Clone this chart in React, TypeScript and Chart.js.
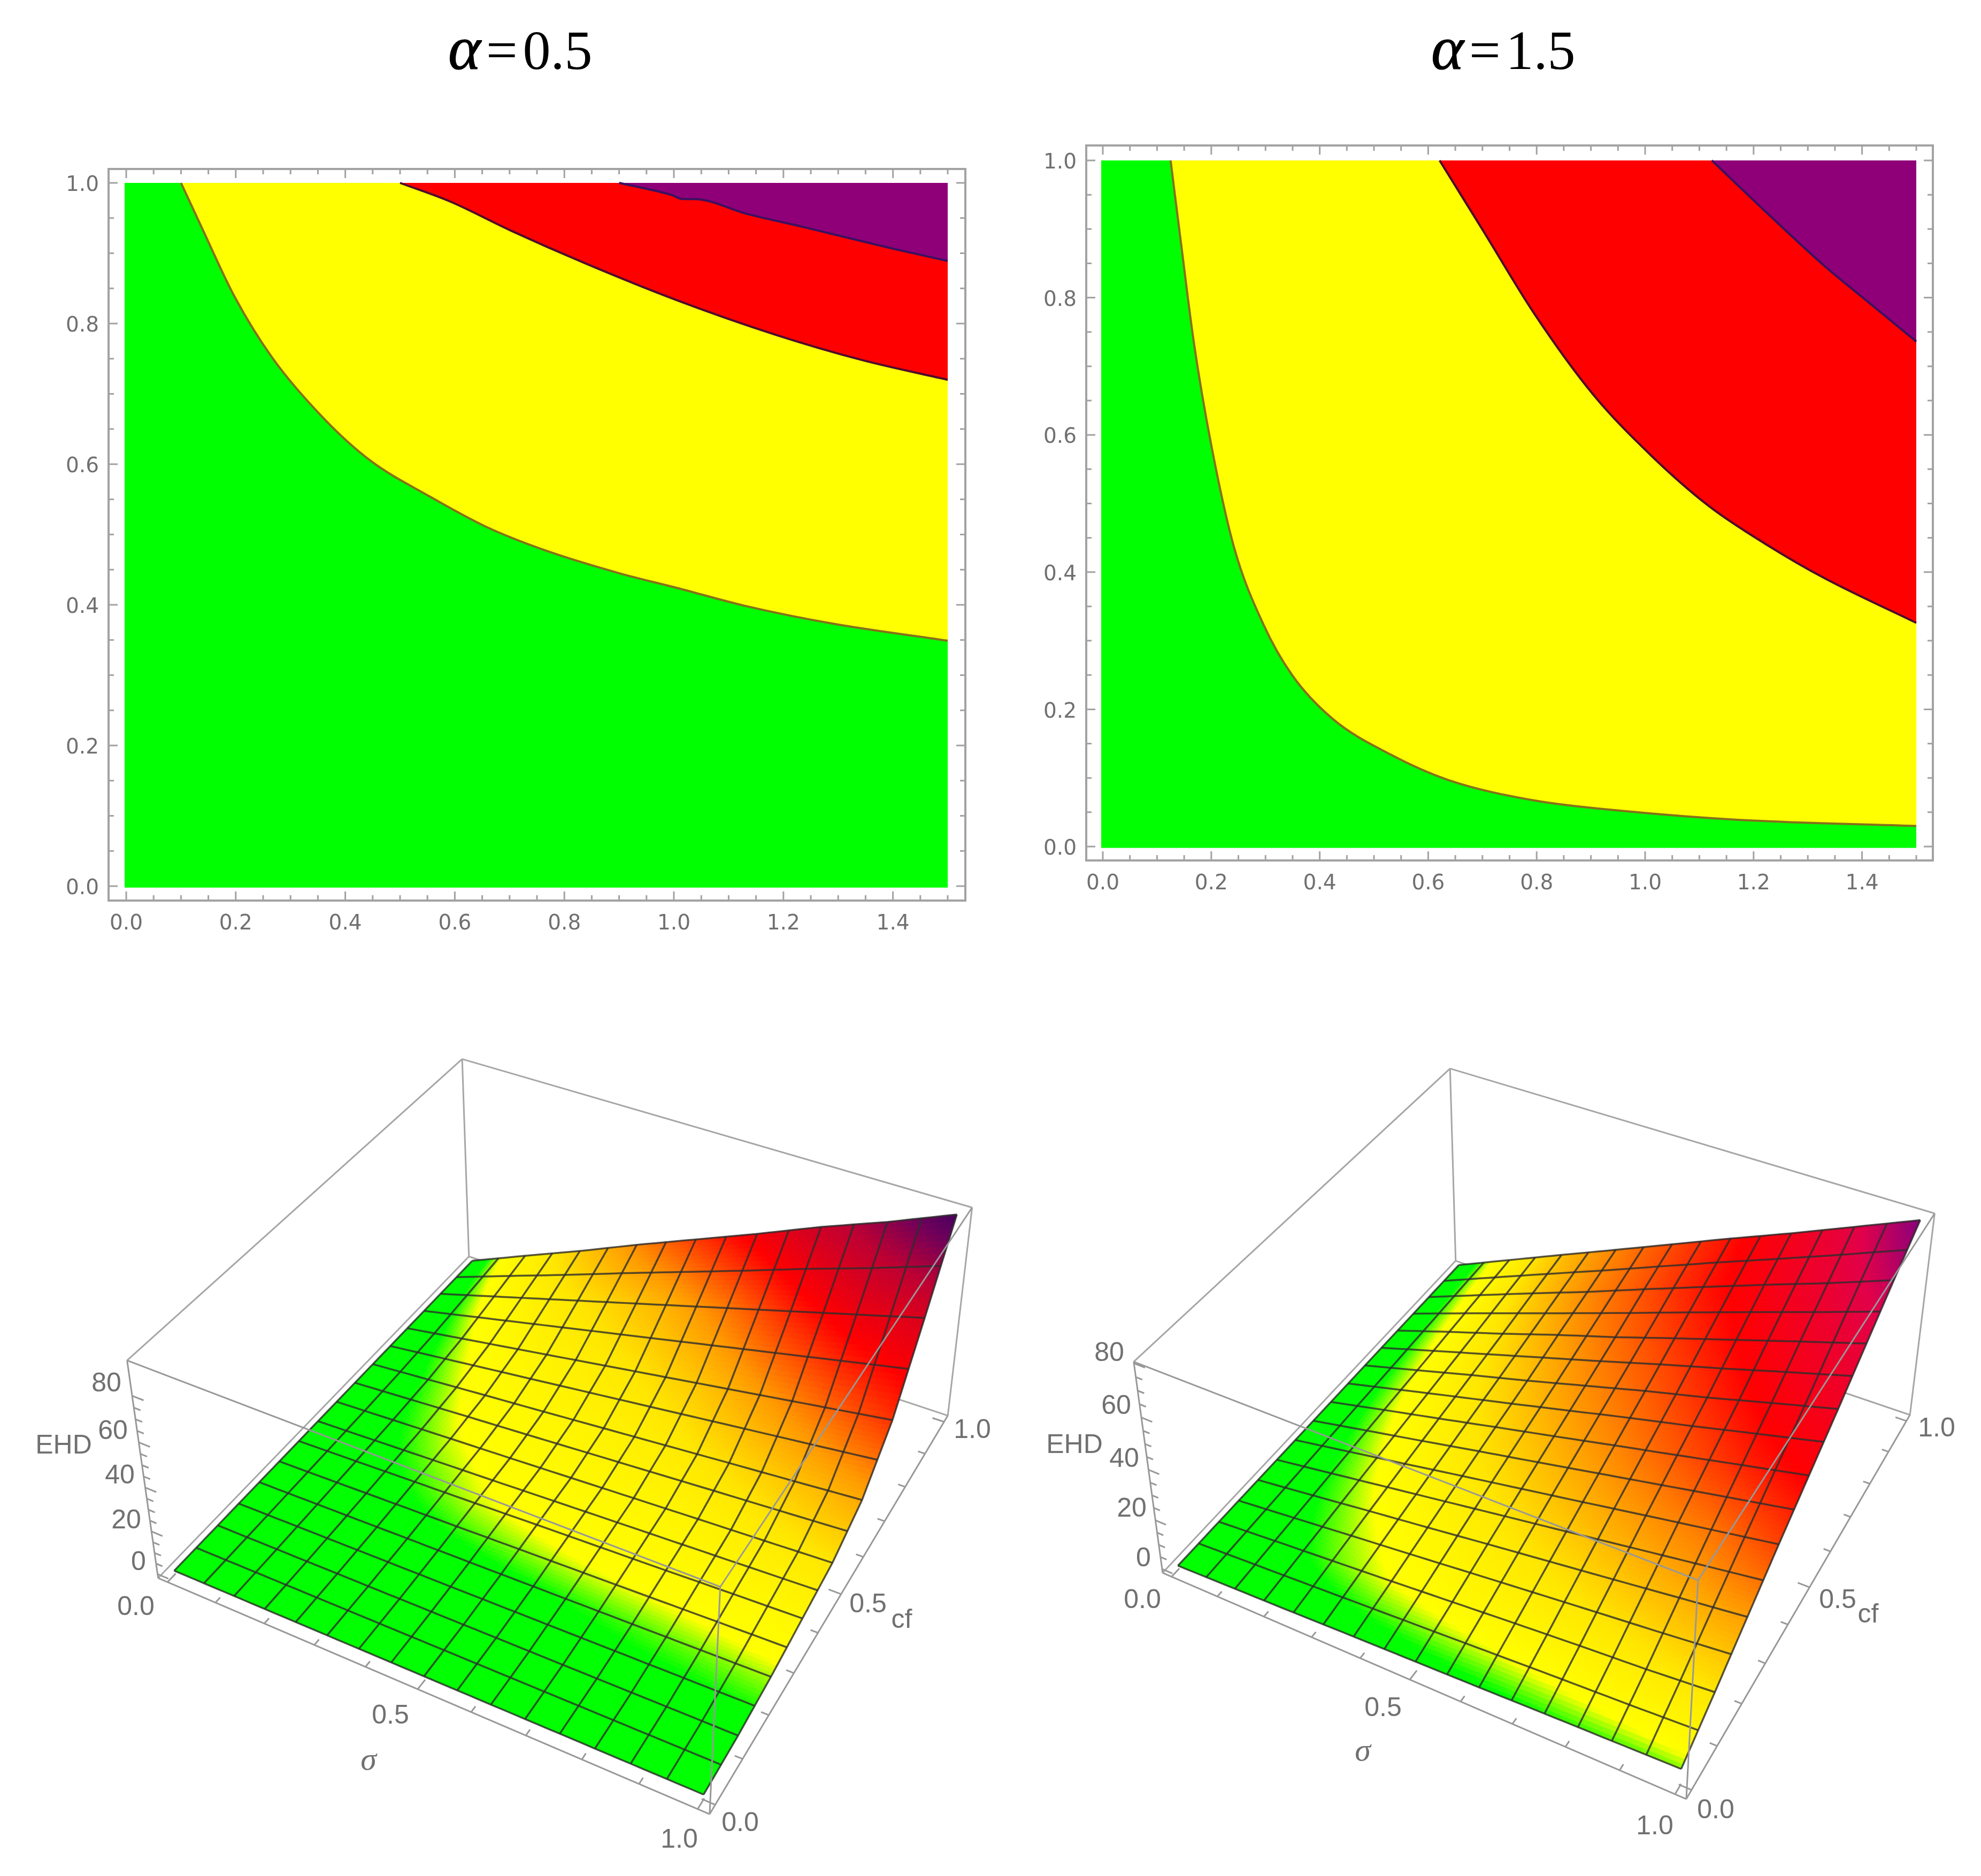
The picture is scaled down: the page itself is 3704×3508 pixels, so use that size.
import React, { useEffect, useRef } from "react";
import Chart from "chart.js/auto";

// contour boundaries, left panel (alpha = 0.5)
const leftGreenX = [0.1, 0.14, 0.198, 0.267, 0.362, 0.446, 0.552, 0.657, 0.763, 0.9, 1.006, 1.133, 1.292, 1.5];
const leftGreenY = [1, 0.933, 0.838, 0.751, 0.664, 0.605, 0.555, 0.511, 0.478, 0.445, 0.424, 0.398, 0.373, 0.349];
const leftRedX = [0.5, 0.593, 0.7, 0.837, 1.006, 1.186, 1.344, 1.5];
const leftRedY = [1, 0.973, 0.933, 0.886, 0.833, 0.784, 0.748, 0.72];
const leftPurpleX = [0.9, 0.995, 1.016, 1.037, 1.133, 1.238, 1.397, 1.5];
const leftPurpleY = [1, 0.983, 0.977, 0.977, 0.956, 0.937, 0.907, 0.889];

// contour boundaries, right panel (alpha = 1.5)
const rightGreenX = [0.125, 0.146, 0.168, 0.2, 0.242, 0.296, 0.349, 0.424, 0.531, 0.637, 0.797, 0.958, 1.171, 1.5];
const rightGreenY = [1, 0.868, 0.734, 0.585, 0.436, 0.324, 0.25, 0.186, 0.134, 0.097, 0.067, 0.052, 0.039, 0.03];
const rightRedX = [0.621, 0.701, 0.797, 0.904, 1.011, 1.118, 1.224, 1.331, 1.5];
const rightRedY = [1, 0.898, 0.775, 0.659, 0.57, 0.496, 0.44, 0.391, 0.326];
const rightPurpleX = [1.123, 1.224, 1.331, 1.417, 1.5];
const rightPurpleY = [1, 0.924, 0.846, 0.79, 0.736];

const contourXTicks = [0, 0.2, 0.4, 0.6, 0.8, 1, 1.2, 1.4];
const contourYTicks = [0, 0.2, 0.4, 0.6, 0.8, 1];

// EHD height: one row per cf (0, 0.125 ... 1), one column per sigma (0, 0.125 ... 1)
const ehdLeft = [
  [0, 0.06, 0.12, 0.19, 0.25, 0.31, 0.38, 0.44, 0.5],
  [0, 0.2, 0.4, 0.6, 0.8, 1, 1.2, 1.4, 1.6],
  [0, 0.5, 1, 1.5, 2, 2.5, 3, 3.5, 4],
  [0, 0.95, 1.9, 2.8, 3.8, 4.7, 5.6, 6.6, 7.5],
  [0, 1.4, 2.8, 4.1, 5.5, 6.9, 8.3, 9.6, 11],
  [0, 2.4, 4.8, 7.1, 9.5, 11.9, 14.3, 16.6, 19],
  [0, 4.5, 9, 13.5, 18, 22.5, 27, 31.5, 36],
  [0, 8, 16, 24, 32, 40, 48, 56, 64],
  [0, 11.6, 23, 35, 46.5, 58, 70, 81, 93],
];
const ehdRight = [
  [0, 0.6, 1.2, 1.9, 2.5, 3.1, 3.8, 4.4, 5],
  [0, 1.8, 3.5, 5.2, 7, 8.8, 10.5, 12, 14],
  [0, 2.9, 5.9, 8.8, 11.8, 14.7, 17.6, 20.6, 23.5],
  [0, 4.1, 8.2, 12.4, 16.5, 20.6, 24.8, 28.9, 33],
  [0, 5.3, 10.5, 15.8, 21, 26.3, 31.5, 36.8, 42],
  [0, 6.4, 12.8, 19, 25.5, 32, 38, 44.6, 51],
  [0, 7.6, 15, 22.7, 30, 37.8, 45.4, 53, 60.5],
  [0, 8.8, 17.5, 26, 35, 43.8, 52.5, 61, 70],
  [0, 9.9, 19.8, 29.6, 39.5, 49.4, 59, 69, 79],
];

const toneLeft = [
  [0, 0.06, 0.12, 0.2, 0.25, 0.3, 0.4, 0.45, 0.5],
  [0, 0.25, 0.5, 0.8, 1.1, 1.3, 1.6, 1.8, 2],
  [0, 0.8, 1.6, 2.4, 3.1, 3.7, 4.3, 4.9, 5.5],
  [0, 2, 3.9, 5.8, 7, 8, 8.6, 9.2, 10],
  [0, 3, 6, 8, 9.5, 10.5, 12, 15, 18],
  [0, 4, 8, 10.5, 12.5, 15, 20, 25, 30],
  [0, 5.5, 10.5, 14, 18, 24, 32, 40, 48],
  [0, 8, 15, 21, 28, 38, 50, 60, 66],
  [0, 11.6, 23, 35, 46.5, 58, 70, 81, 93],
];
const toneRight = [
  [0, 0.6, 1.2, 1.9, 2.5, 3.1, 3.8, 4.4, 5],
  [0, 2.2, 4.5, 6.5, 8, 9.4, 10.8, 12.4, 14],
  [0, 3.2, 6.2, 9, 11.8, 14.7, 17.6, 20.6, 23.5],
  [0, 4.1, 8.2, 12.4, 16.5, 20.6, 24.8, 29, 36],
  [0, 5.3, 10.5, 15.8, 21, 26.5, 33, 40, 46],
  [0, 6.4, 12.8, 19, 25.5, 32, 39.5, 47, 54],
  [0, 7.6, 15, 22.7, 30, 37.5, 45, 53, 62],
  [0, 8.8, 17.5, 26, 34, 42, 49.5, 59, 71],
  [0, 9.9, 19, 27, 35, 43, 52, 64, 79],
];

const leftLevels = [3.5, 6.5, 18, 33, 55, 74, 86, 95];
const leftStops = [
  [0, 255, 0],
  [255, 255, 0],
  [255, 230, 0],
  [255, 154, 0],
  [255, 0, 0],
  [190, 0, 50],
  [110, 0, 90],
  [60, 0, 96],
];
const rightLevels = [3.5, 6.5, 14, 24, 45, 66, 80];
const rightStops = [
  [0, 255, 0],
  [255, 255, 0],
  [255, 230, 0],
  [255, 154, 0],
  [255, 0, 0],
  [225, 0, 74],
  [128, 0, 128],
];

const axisTicks = [0, 0.1, 0.2, 0.3, 0.4, 0.5, 0.6, 0.7, 0.8, 0.9, 1];
const ehdTicks = [0, 5, 10, 15, 20, 25, 30, 35, 40, 45, 50, 55, 60, 65, 70, 75, 80];

const MESH = 16;
const SHADE = 8;

const xy = (xs: number[], ys: number[]) => xs.map((x, i) => ({ x, y: ys[i] }));

type Contour = {
  frame: number[]; // left, top, right, bottom of the frame on the page
  origin: number[]; // page x of 0 and 1.5, page y of 0 and 1
  green: { x: number; y: number }[];
  red: { x: number; y: number }[];
  purple: { x: number; y: number }[];
};

const ContourPlot: React.FC<Contour> = ({ frame, origin, green, red, purple }) => {
  const ref = useRef<HTMLCanvasElement>(null);
  const [L, T, R, B] = frame;
  const [x0, x15, y0, y1] = origin;
  const width = R - L + 170;
  const height = B - T + 150;

  useEffect(() => {
    if (!ref.current) return;
    const perX = (x15 - x0) / 1.5;
    const perY = (y0 - y1) / 1;
    const border = (data: any[], color: string, line: string, smooth = true) => ({
      data,
      backgroundColor: color,
      borderColor: line,
      borderWidth: 4,
      fill: { value: 1 },
      pointRadius: 0,
      cubicInterpolationMode: smooth ? "monotone" : "default",
      tension: smooth ? 0.4 : 0,
    });
    const fontTicks = { family: "DejaVu Sans", size: 39 };

    const framePlugin = {
      id: "mathFrame",
      afterDraw(chart: any) {
        const { ctx, chartArea: a, scales } = chart;
        ctx.save();
        ctx.strokeStyle = "#a2a2a2";
        ctx.lineWidth = 4;
        ctx.strokeRect(a.left, a.top, a.right - a.left, a.bottom - a.top);
        ctx.lineWidth = 3;
        ctx.beginPath();
        for (let i = 0; i <= 30; i++) {
          const px = scales.x.getPixelForValue(i * 0.05);
          const len = i % 4 === 0 ? 17 : 10;
          ctx.moveTo(px, a.bottom);
          ctx.lineTo(px, a.bottom - len);
          ctx.moveTo(px, a.top);
          ctx.lineTo(px, a.top + len);
        }
        for (let i = 0; i <= 20; i++) {
          const py = scales.y.getPixelForValue(i * 0.05);
          const len = i % 4 === 0 ? 17 : 10;
          ctx.moveTo(a.left, py);
          ctx.lineTo(a.left + len, py);
          ctx.moveTo(a.right, py);
          ctx.lineTo(a.right - len, py);
        }
        ctx.stroke();
        ctx.restore();
      },
    };

    const chart = new Chart(ref.current, {
      type: "line",
      data: {
        datasets: [
          border(purple, "#8f0078", "#3b1060"),
          border(red, "#ff0000", "#4e0a2c"),
          border(green, "#ffff00", "#86701a"),
          border(xy([-0.003, 1.5], [-0.002, -0.002]), "#00ff00", "rgba(0,255,0,0)", false),
        ] as any,
      },
      options: {
        animation: false,
        responsive: false,
        devicePixelRatio: 1,
        layout: { padding: { left: 0, top: 60, right: 60, bottom: 0 } },
        plugins: { legend: { display: false }, tooltip: { enabled: false } },
        scales: {
          x: {
            type: "linear",
            min: (L - x0) / perX,
            max: 1.5 + (R - x15) / perX,
            grid: { display: false },
            border: { display: false },
            afterBuildTicks: (s: any) => {
              s.ticks = contourXTicks.map((value) => ({ value }));
            },
            afterFit: (s: any) => {
              s.height = 90;
            },
            ticks: {
              color: "#707070",
              font: fontTicks,
              padding: 12,
              maxRotation: 0,
              autoSkip: false,
              callback: (v: any) => Number(v).toFixed(1),
            },
          },
          y: {
            type: "linear",
            min: (y0 - B) / perY,
            max: 1 + (y1 - T) / perY,
            grid: { display: false },
            border: { display: false },
            afterBuildTicks: (s: any) => {
              s.ticks = contourYTicks.map((value) => ({ value }));
            },
            afterFit: (s: any) => {
              s.width = 110;
            },
            ticks: {
              color: "#707070",
              font: fontTicks,
              padding: 10,
              labelOffset: 5,
              autoSkip: false,
              callback: (v: any) => Number(v).toFixed(1),
            },
          },
        },
      } as any,
      plugins: [framePlugin],
    });
    return () => chart.destroy();
  }, []);

  return (
    <canvas
      ref={ref}
      width={width}
      height={height}
      style={{ position: "absolute", left: L - 110, top: T - 60, width, height }}
    />
  );
};

// box coordinates (u, v, w) in 0..1 -> page x, y, as a pin-hole camera fitted to what can be seen of the box
const fitCamera = (matches: number[][]) => {
  const N = 11;
  const M = Array.from({ length: N }, () => new Array(N + 1).fill(0));
  const add = (row: number[], rhs: number) => {
    for (let i = 0; i < N; i++) {
      for (let j = 0; j < N; j++) M[i][j] += row[i] * row[j];
      M[i][N] += row[i] * rhs;
    }
  };
  matches.forEach(([u, v, w, px, py]) => {
    const X = px / 1000;
    const Y = py / 1000;
    add([1, u, v, w, 0, 0, 0, 0, -X * u, -X * v, -X * w], X);
    add([0, 0, 0, 0, 1, u, v, w, -Y * u, -Y * v, -Y * w], Y);
  });
  for (let c = 0; c < N; c++) {
    let p = c;
    for (let r = c + 1; r < N; r++) if (Math.abs(M[r][c]) > Math.abs(M[p][c])) p = r;
    [M[c], M[p]] = [M[p], M[c]];
    for (let r = 0; r < N; r++) {
      if (r === c) continue;
      const f = M[r][c] / M[c][c];
      for (let k = c; k <= N; k++) M[r][k] -= f * M[c][k];
    }
  }
  const s = M.map((row, i) => row[N] / row[i]);
  return (u: number, v: number, w: number) => {
    const h = 1 + s[8] * u + s[9] * v + s[10] * w;
    return {
      x: (1000 * (s[0] + s[1] * u + s[2] * v + s[3] * w)) / h,
      y: (1000 * (s[4] + s[5] * u + s[6] * v + s[7] * w)) / h,
    };
  };
};

const colorFor = (z: number, levels: number[], stops: number[][]) => {
  const rgb = (c: number[]) => `rgb(${c[0]},${c[1]},${c[2]})`;
  if (z <= levels[0]) return rgb(stops[0]);
  for (let i = 1; i < levels.length; i++) {
    if (z <= levels[i]) {
      const t = (z - levels[i - 1]) / (levels[i] - levels[i - 1]);
      const a = stops[i - 1];
      const b = stops[i];
      return rgb([a[0] + (b[0] - a[0]) * t, a[1] + (b[1] - a[1]) * t, a[2] + (b[2] - a[2]) * t]);
    }
  }
  return rgb(stops[stops.length - 1]);
};

const ehdAt = (table: number[][], sigma: number, cf: number) => {
  const a = Math.min(sigma * 8, 7.9999);
  const b = Math.min(cf * 8, 7.9999);
  const i = Math.floor(a);
  const j = Math.floor(b);
  const s = a - i;
  const t = b - j;
  return (
    table[j][i] * (1 - s) * (1 - t) +
    table[j][i + 1] * s * (1 - t) +
    table[j + 1][i] * (1 - s) * t +
    table[j + 1][i + 1] * s * t
  );
};

type Label = { text: string; x: number; y: number; serif?: boolean };
type Surface = {
  table: number[][];
  tone: number[][];
  levels: number[];
  stops: number[][];
  zMax: number;
  area: number[]; // left, top, width, height of the canvas on the page
  corners: number[][]; // u, v, w, page x, page y
  labels: Label[];
};

const SurfacePlot: React.FC<Surface> = ({ table, tone, levels, stops, zMax, area, corners, labels }) => {
  const ref = useRef<HTMLCanvasElement>(null);
  const [left, top, width, height] = area;

  useEffect(() => {
    if (!ref.current) return;
    const cam = fitCamera(corners);
    const at = (sigma: number, cf: number, z: number) =>
      cam((sigma + 0.02) / 1.04, (cf + 0.02) / 1.04, (z + 0.02 * zMax) / (1.04 * zMax));
    const onSurface = (sigma: number, cf: number) => at(sigma, cf, ehdAt(table, sigma, cf));

    const line = (data: any[], color: string, w: number) => ({
      data,
      showLine: true,
      borderColor: color,
      borderWidth: w,
      pointRadius: 0,
      fill: false,
    });

    const backEdges = [
      [0, 1, 1, 0, 0, 1],
      [0, 1, 1, 1, 1, 1],
      [0, 1, 1, 0, 1, 0],
      [1, 1, 1, 1, 1, 0],
      [1, 1, 0, 0, 1, 0],
      [0, 0, 0, 0, 1, 0],
    ];
    const frontEdges = [
      [0, 0, 1, 0, 0, 0],
      [0, 0, 0, 1, 0, 0],
      [1, 0, 0, 1, 1, 0],
      [0, 0, 1, 1, 0, 1],
      [1, 0, 1, 1, 1, 1],
      [1, 0, 1, 1, 0, 0],
    ];

    const datasets: any[] = [];
    frontEdges.forEach((e) => {
      datasets.push(line([cam(e[0], e[1], e[2]), cam(e[3], e[4], e[5])], "#989898", 3));
    });
    // tick marks along the bottom edges and the EHD edge
    axisTicks.forEach((t, i) => {
      const len = i % 5 === 0 ? 0.022 : 0.013;
      const us = (t + 0.02) / 1.04;
      datasets.push(line([cam(us, 0, 0), cam(us, len, 0)], "#989898", 3));
      datasets.push(line([cam(1, us, 0), cam(1 - len, us, 0)], "#989898", 3));
    });
    ehdTicks.forEach((t, i) => {
      const len = i % 4 === 0 ? 0.022 : 0.013;
      const w = (t + 0.02 * zMax) / (1.04 * zMax);
      datasets.push(line([cam(0, 0, w), cam(len, 0, w)], "#989898", 3));
    });
    // mesh
    for (let k = 0; k <= MESH; k++) {
      const a: any[] = [];
      const b: any[] = [];
      for (let n = 0; n <= MESH * 3; n++) {
        a.push(onSurface(k / MESH, n / (MESH * 3)));
        b.push(onSurface(n / (MESH * 3), k / MESH));
      }
      datasets.push(line(a, "rgba(45,45,45,0.8)", 3.5));
      datasets.push(line(b, "rgba(45,45,45,0.8)", 3.5));
    }

    const surfacePlugin = {
      id: "surfaceFill",
      beforeDatasetsDraw(chart: any) {
        const { ctx, scales } = chart;
        const px = (p: any) => [scales.x.getPixelForValue(p.x), scales.y.getPixelForValue(p.y)];
        ctx.save();
        ctx.strokeStyle = "#a6a6a6";
        ctx.lineWidth = 3;
        backEdges.forEach((e) => {
          const a = px(cam(e[0], e[1], e[2]));
          const b = px(cam(e[3], e[4], e[5]));
          ctx.beginPath();
          ctx.moveTo(a[0], a[1]);
          ctx.lineTo(b[0], b[1]);
          ctx.stroke();
        });
        const n = MESH * SHADE;
        ctx.lineWidth = 1;
        for (let j = 0; j < n; j++) {
          for (let i = 0; i < n; i++) {
            const s0 = i / n;
            const s1 = (i + 1) / n;
            const c0 = j / n;
            const c1 = (j + 1) / n;
            const q = [onSurface(s0, c0), onSurface(s1, c0), onSurface(s1, c1), onSurface(s0, c1)].map(px);
            const col = colorFor(ehdAt(tone, (s0 + s1) / 2, (c0 + c1) / 2), levels, stops);
            ctx.fillStyle = col;
            ctx.strokeStyle = col;
            ctx.beginPath();
            ctx.moveTo(q[0][0], q[0][1]);
            q.slice(1).forEach((p: number[]) => ctx.lineTo(p[0], p[1]));
            ctx.closePath();
            ctx.fill();
            ctx.stroke();
          }
        }
        ctx.restore();
      },
      afterDraw(chart: any) {
        const { ctx, scales } = chart;
        ctx.save();
        ctx.fillStyle = "#707070";
        ctx.textAlign = "center";
        ctx.textBaseline = "middle";
        labels.forEach((l) => {
          ctx.font = l.serif ? "italic 60px 'Liberation Serif'" : "50px 'Liberation Sans'";
          ctx.fillText(l.text, scales.x.getPixelForValue(l.x), scales.y.getPixelForValue(l.y));
        });
        ctx.restore();
      },
    };

    const chart = new Chart(ref.current, {
      type: "scatter",
      data: { datasets },
      options: {
        animation: false,
        responsive: false,
        devicePixelRatio: 1,
        plugins: { legend: { display: false }, tooltip: { enabled: false } },
        scales: {
          x: { type: "linear", display: false, min: left, max: left + width },
          y: { type: "linear", display: false, reverse: true, min: top, max: top + height },
        },
      } as any,
      plugins: [surfacePlugin],
    });
    return () => chart.destroy();
  }, []);

  return (
    <canvas
      ref={ref}
      width={width}
      height={height}
      style={{ position: "absolute", left, top, width, height }}
    />
  );
};

const leftCorners = [
  [0, 1, 1, 865, 1982],
  [0, 0, 1, 236, 2544],
  [0, 0, 0, 295, 2952],
  [1, 1, 1, 1818, 2259],
  [1, 1, 0, 1772, 2649],
  [1, 0, 1, 1347, 2966],
  [1, 0, 0, 1327, 3394],
  [0.0192, 0.0192, 0.0192, 328, 2937],
  [0.9808, 0.0192, 0.0192, 1315, 3356],
  [0.0192, 0.9808, 0.0192, 882, 2355],
  [0.9808, 0.9808, 0.9808, 1789, 2269],
];
const rightCorners = [
  [0, 1, 1, 2713, 2001],
  [0, 0, 1, 2119, 2544],
  [0, 0, 0, 2173, 2942],
  [1, 1, 1, 3618, 2266],
  [1, 1, 0, 3570, 2649],
  [1, 0, 1, 3172, 2957],
  [1, 0, 0, 3155, 3369],
  [0.0192, 0.0192, 0.0192, 2204, 2930],
  [0.9808, 0.0192, 0.0192, 3143, 3323],
  [0.0192, 0.9808, 0.0192, 2726, 2362],
  [0.9808, 0.9808, 0.9808, 3591, 2282],
];

const leftLabels: Label[] = [
  { text: "0.0", x: 254, y: 3006 },
  { text: "0.5", x: 730, y: 3209 },
  { text: "1.0", x: 1270, y: 3441 },
  { text: "0.0", x: 1384, y: 3410 },
  { text: "0.5", x: 1623, y: 3001 },
  { text: "1.0", x: 1818, y: 2675 },
  { text: "80", x: 199, y: 2588 },
  { text: "60", x: 211, y: 2677 },
  { text: "40", x: 224, y: 2760 },
  { text: "20", x: 236, y: 2844 },
  { text: "0", x: 259, y: 2922 },
  { text: "EHD", x: 119, y: 2704 },
  { text: "cf", x: 1686, y: 3030 },
  { text: "σ", x: 689, y: 3293, serif: true },
];
const rightLabels: Label[] = [
  { text: "0.0", x: 2136, y: 2993 },
  { text: "0.5", x: 2586, y: 3195 },
  { text: "1.0", x: 3094, y: 3416 },
  { text: "0.0", x: 3208, y: 3386 },
  { text: "0.5", x: 3436, y: 2993 },
  { text: "1.0", x: 3621, y: 2672 },
  { text: "80", x: 2074, y: 2531 },
  { text: "60", x: 2087, y: 2630 },
  { text: "40", x: 2102, y: 2729 },
  { text: "20", x: 2116, y: 2822 },
  { text: "0", x: 2138, y: 2915 },
  { text: "EHD", x: 2009, y: 2703 },
  { text: "cf", x: 3493, y: 3020 },
  { text: "σ", x: 2548, y: 3276, serif: true },
];

const Title: React.FC<{ left: number; value: string }> = ({ left, value }) => (
  <div
    style={{
      position: "absolute",
      left,
      top: 30,
      fontFamily: "'Liberation Serif'",
      fontSize: 104,
      lineHeight: "120px",
      color: "#000",
      whiteSpace: "nowrap",
    }}
  >
    <i style={{ fontSize: 116, WebkitTextStroke: "1.2px #000" }}>α</i>
    <span style={{ margin: "0 10px" }}>=</span>
    {value}
  </div>
);

export default function App() {
  return (
    <div style={{ position: "absolute", left: 0, top: 0, width: 3704, height: 3508, background: "#fff", overflow: "hidden" }}>
      <Title left={838} value="0.5" />
      <Title left={2676} value="1.5" />
      <ContourPlot
        frame={[203, 316, 1805, 1684]}
        origin={[236, 1772, 1657, 342]}
        green={xy(leftGreenX, leftGreenY)}
        red={xy(leftRedX, leftRedY)}
        purple={xy(leftPurpleX, leftPurpleY)}
      />
      <ContourPlot
        frame={[2031, 272, 3614, 1609]}
        origin={[2062, 3583, 1583, 300]}
        green={xy(rightGreenX, rightGreenY)}
        red={xy(rightRedX, rightRedY)}
        purple={xy(rightPurpleX, rightPurpleY)}
      />
      <SurfacePlot table={ehdLeft} tone={toneLeft} levels={leftLevels} stops={leftStops} zMax={93} area={[40, 1950, 1860, 1550]} corners={leftCorners} labels={leftLabels} />
      <SurfacePlot table={ehdRight} tone={toneRight} levels={rightLevels} stops={rightStops} zMax={79} area={[1910, 1950, 1794, 1550]} corners={rightCorners} labels={rightLabels} />
    </div>
  );
}
